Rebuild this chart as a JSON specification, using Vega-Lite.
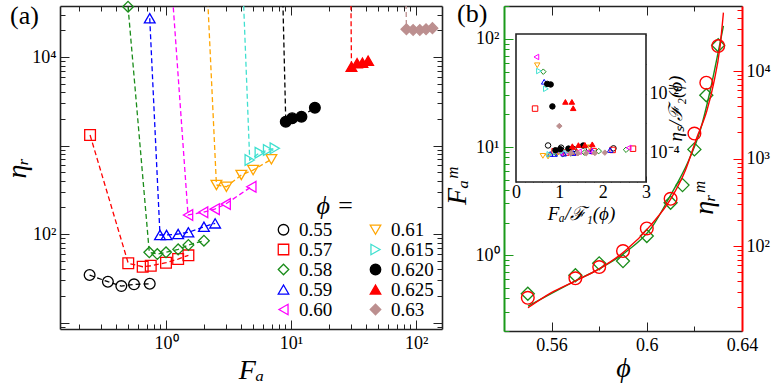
{
  "$schema": "https://vega.github.io/schema/vega-lite/v6.json",
  "background": "white",
  "padding": {"left": 3, "top": -3, "right": 0, "bottom": 0},
  "spacing": 0,
  "resolve": {"scale": {"stroke": "independent", "fill": "independent", "shape": "independent"}, "legend": {"stroke": "independent", "fill": "independent", "shape": "independent"}},
  "config": {
    "view": {"stroke": null},
    "font": "Liberation Serif",
    "axis": {"labelFont": "Liberation Serif", "titleFont": "Liberation Serif", "labelFontSize": 18, "titleFontSize": 28, "titleFontWeight": "normal", "titleFontStyle": "italic", "labelColor": "black", "titleColor": "black", "grid": false, "domainColor": "#222", "tickColor": "#222", "domainWidth": 1.6, "tickWidth": 1, "labelFlush": false, "labelOverlap": false},
    "title": {"font": "Liberation Serif", "fontWeight": "normal", "fontSize": 26, "color": "black"}
  },
  "datasets": {
    "a": [
      {"phi": "0.55", "i": 0, "Fa": 0.245, "eta": 34.4},
      {"phi": "0.55", "i": 1, "Fa": 0.343, "eta": 28.9},
      {"phi": "0.55", "i": 2, "Fa": 0.439, "eta": 25.8},
      {"phi": "0.55", "i": 3, "Fa": 0.555, "eta": 27.0},
      {"phi": "0.55", "i": 4, "Fa": 0.741, "eta": 27.4},
      {"phi": "0.57", "i": 0, "Fa": 0.247, "eta": 1314},
      {"phi": "0.57", "i": 1, "Fa": 0.499, "eta": 46.7},
      {"phi": "0.57", "i": 2, "Fa": 0.651, "eta": 42.7},
      {"phi": "0.57", "i": 3, "Fa": 0.755, "eta": 43.8},
      {"phi": "0.57", "i": 4, "Fa": 1.0, "eta": 47.4},
      {"phi": "0.57", "i": 5, "Fa": 1.25, "eta": 52.2},
      {"phi": "0.57", "i": 6, "Fa": 1.51, "eta": 57.4},
      {"phi": "0.58", "i": 0, "Fa": 0.497, "eta": 37000},
      {"phi": "0.58", "i": 1, "Fa": 0.735, "eta": 62.1},
      {"phi": "0.58", "i": 2, "Fa": 0.852, "eta": 59.4},
      {"phi": "0.58", "i": 3, "Fa": 1.0, "eta": 62.1},
      {"phi": "0.58", "i": 4, "Fa": 1.25, "eta": 67.1},
      {"phi": "0.58", "i": 5, "Fa": 1.51, "eta": 75.1},
      {"phi": "0.58", "i": 6, "Fa": 2.01, "eta": 84.0},
      {"phi": "0.59", "i": 0, "Fa": 0.741, "eta": 27400},
      {"phi": "0.59", "i": 1, "Fa": 0.895, "eta": 97.5},
      {"phi": "0.59", "i": 2, "Fa": 1.01, "eta": 97.5},
      {"phi": "0.59", "i": 3, "Fa": 1.25, "eta": 100},
      {"phi": "0.59", "i": 4, "Fa": 1.51, "eta": 104.5},
      {"phi": "0.59", "i": 5, "Fa": 2.01, "eta": 120.9},
      {"phi": "0.59", "i": 6, "Fa": 2.47, "eta": 132},
      {"phi": "0.60", "i": 0, "Fa": 1.03, "eta": 290000},
      {"phi": "0.60", "i": 1, "Fa": 1.5, "eta": 164},
      {"phi": "0.60", "i": 2, "Fa": 1.98, "eta": 176},
      {"phi": "0.60", "i": 3, "Fa": 2.45, "eta": 191},
      {"phi": "0.60", "i": 4, "Fa": 3.0, "eta": 218},
      {"phi": "0.60", "i": 5, "Fa": 4.81, "eta": 342},
      {"phi": "0.61", "i": 0, "Fa": 2.0, "eta": 420000},
      {"phi": "0.61", "i": 1, "Fa": 2.53, "eta": 358},
      {"phi": "0.61", "i": 2, "Fa": 3.04, "eta": 342},
      {"phi": "0.61", "i": 3, "Fa": 4.0, "eta": 464},
      {"phi": "0.61", "i": 4, "Fa": 4.97, "eta": 528},
      {"phi": "0.61", "i": 5, "Fa": 6.96, "eta": 698},
      {"phi": "0.615", "i": 0, "Fa": 3.9, "eta": 460000},
      {"phi": "0.615", "i": 1, "Fa": 4.67, "eta": 685},
      {"phi": "0.615", "i": 2, "Fa": 5.62, "eta": 830},
      {"phi": "0.615", "i": 3, "Fa": 6.55, "eta": 889},
      {"phi": "0.615", "i": 4, "Fa": 7.41, "eta": 929},
      {"phi": "0.620", "i": 0, "Fa": 8.3, "eta": 330000},
      {"phi": "0.620", "i": 1, "Fa": 9.07, "eta": 1859},
      {"phi": "0.620", "i": 2, "Fa": 10.2, "eta": 2028},
      {"phi": "0.620", "i": 3, "Fa": 12.1, "eta": 2118},
      {"phi": "0.620", "i": 4, "Fa": 15.5, "eta": 2678},
      {"phi": "0.625", "i": 0, "Fa": 29.8, "eta": 250000},
      {"phi": "0.625", "i": 1, "Fa": 30.4, "eta": 7780},
      {"phi": "0.625", "i": 2, "Fa": 33.7, "eta": 8490},
      {"phi": "0.625", "i": 3, "Fa": 37.2, "eta": 8630},
      {"phi": "0.625", "i": 4, "Fa": 41.3, "eta": 9080},
      {"phi": "0.63", "i": 0, "Fa": 82, "eta": 170000},
      {"phi": "0.63", "i": 1, "Fa": 83.6, "eta": 20600},
      {"phi": "0.63", "i": 2, "Fa": 94.6, "eta": 20200},
      {"phi": "0.63", "i": 3, "Fa": 107, "eta": 20200},
      {"phi": "0.63", "i": 4, "Fa": 120, "eta": 20600},
      {"phi": "0.63", "i": 5, "Fa": 135, "eta": 21200}
    ],
    "ins": [
      {"p": "0.55", "x": 0.74, "y": 0.00018},
      {"p": "0.55", "x": 1.04, "y": 0.000152},
      {"p": "0.55", "x": 1.33, "y": 0.000136},
      {"p": "0.55", "x": 1.68, "y": 0.000142},
      {"p": "0.55", "x": 2.25, "y": 0.000144},
      {"p": "0.57", "x": 0.44, "y": 0.0032},
      {"p": "0.57", "x": 0.89, "y": 0.000114},
      {"p": "0.57", "x": 1.16, "y": 0.000104},
      {"p": "0.57", "x": 1.35, "y": 0.000107},
      {"p": "0.57", "x": 1.79, "y": 0.000116},
      {"p": "0.57", "x": 2.23, "y": 0.000127},
      {"p": "0.57", "x": 2.7, "y": 0.00014},
      {"p": "0.58", "x": 0.63, "y": 0.057},
      {"p": "0.58", "x": 0.93, "y": 0.000096},
      {"p": "0.58", "x": 1.08, "y": 0.000091},
      {"p": "0.58", "x": 1.27, "y": 0.000096},
      {"p": "0.58", "x": 1.58, "y": 0.000103},
      {"p": "0.58", "x": 1.91, "y": 0.000116},
      {"p": "0.58", "x": 2.54, "y": 0.000129},
      {"p": "0.59", "x": 0.65, "y": 0.026},
      {"p": "0.59", "x": 0.79, "y": 0.000093},
      {"p": "0.59", "x": 0.89, "y": 0.000093},
      {"p": "0.59", "x": 1.1, "y": 0.000095},
      {"p": "0.59", "x": 1.32, "y": 0.0001},
      {"p": "0.59", "x": 1.76, "y": 0.000115},
      {"p": "0.59", "x": 2.17, "y": 0.000126},
      {"p": "0.60", "x": 0.47, "y": 0.18},
      {"p": "0.60", "x": 1.03, "y": 0.0001},
      {"p": "0.60", "x": 1.2, "y": 0.000105},
      {"p": "0.60", "x": 1.45, "y": 0.00011},
      {"p": "0.60", "x": 1.7, "y": 0.00012},
      {"p": "0.60", "x": 2.6, "y": 0.00015},
      {"p": "0.61", "x": 0.49, "y": 0.094},
      {"p": "0.61", "x": 0.62, "y": 0.00008},
      {"p": "0.61", "x": 0.74, "y": 0.000076},
      {"p": "0.61", "x": 0.98, "y": 0.000103},
      {"p": "0.61", "x": 1.21, "y": 0.000117},
      {"p": "0.61", "x": 1.7, "y": 0.000155},
      {"p": "0.615", "x": 0.53, "y": 0.06},
      {"p": "0.615", "x": 0.69, "y": 0.015},
      {"p": "0.615", "x": 0.77, "y": 0.00009},
      {"p": "0.615", "x": 0.92, "y": 0.000109},
      {"p": "0.615", "x": 1.07, "y": 0.000117},
      {"p": "0.615", "x": 1.21, "y": 0.000122},
      {"p": "0.620", "x": 0.72, "y": 0.022},
      {"p": "0.620", "x": 0.8, "y": 0.021},
      {"p": "0.620", "x": 0.84, "y": 0.0038},
      {"p": "0.620", "x": 0.91, "y": 0.000124},
      {"p": "0.620", "x": 1.02, "y": 0.000135},
      {"p": "0.620", "x": 1.21, "y": 0.000141},
      {"p": "0.620", "x": 1.55, "y": 0.000179},
      {"p": "0.625", "x": 1.14, "y": 0.0054},
      {"p": "0.625", "x": 1.29, "y": 0.0054},
      {"p": "0.625", "x": 1.32, "y": 0.0033},
      {"p": "0.625", "x": 1.3, "y": 0.00017},
      {"p": "0.625", "x": 1.44, "y": 0.000185},
      {"p": "0.625", "x": 1.59, "y": 0.000188},
      {"p": "0.625", "x": 1.76, "y": 0.000197},
      {"p": "0.63", "x": 1.0, "y": 0.00082},
      {"p": "0.63", "x": 1.27, "y": 0.0001},
      {"p": "0.63", "x": 1.43, "y": 0.000098},
      {"p": "0.63", "x": 1.62, "y": 0.000098},
      {"p": "0.63", "x": 1.82, "y": 0.0001},
      {"p": "0.63", "x": 2.05, "y": 0.000103}
    ],
    "bp": [
      {"phi": 0.55, "F": 0.438, "eta": 25.6},
      {"phi": 0.57, "F": 0.649, "eta": 42.8},
      {"phi": 0.58, "F": 0.838, "eta": 57.5},
      {"phi": 0.59, "F": 0.879, "eta": 87.7},
      {"phi": 0.6, "F": 1.5, "eta": 159},
      {"phi": 0.61, "F": 3.05, "eta": 347},
      {"phi": 0.615, "F": 4.44, "eta": null},
      {"phi": 0.62, "F": 9.5, "eta": 1930},
      {"phi": 0.625, "F": 30.1, "eta": 7350},
      {"phi": 0.63, "F": 87.5, "eta": 19300}
    ],
    "gc": [
      {"phi": 0.5501, "F": 0.337},
      {"phi": 0.5698, "F": 0.574},
      {"phi": 0.5796, "F": 0.737},
      {"phi": 0.5908, "F": 1.05},
      {"phi": 0.602, "F": 1.79},
      {"phi": 0.6098, "F": 3.52},
      {"phi": 0.6175, "F": 7.42},
      {"phi": 0.6224, "F": 14.1},
      {"phi": 0.6266, "F": 33.0},
      {"phi": 0.6301, "F": 77.4},
      {"phi": 0.6322, "F": 132}
    ],
    "rc": [
      {"phi": 0.5501, "eta": 19.7},
      {"phi": 0.5599, "eta": 29.3},
      {"phi": 0.5698, "eta": 39.8},
      {"phi": 0.5796, "eta": 54.2},
      {"phi": 0.5908, "eta": 87.7},
      {"phi": 0.602, "eta": 177},
      {"phi": 0.6104, "eta": 357},
      {"phi": 0.6161, "eta": 719},
      {"phi": 0.621, "eta": 1730},
      {"phi": 0.6252, "eta": 3490},
      {"phi": 0.628, "eta": 7050},
      {"phi": 0.6308, "eta": 19300},
      {"phi": 0.6322, "eta": 46500}
    ]
  },
  "hconcat": [
    {
      "width": 382,
      "height": 323,
      "title": {"text": "(a)", "anchor": "start", "frame": "group", "dx": -50, "dy": 34, "fontSize": 26},
      "data": {"name": "a"},
      "layer": [
        {
          "mark": {"type": "line", "strokeDash": [5, 3], "strokeWidth": 1.3, "clip": true},
          "encoding": {
            "x": {"field": "Fa", "type": "quantitative", "scale": {"type": "log", "domain": [0.142, 161], "nice": false},
              "axis": {"orient": "bottom", "values": [0.2,0.3,0.4,0.5,0.6,0.7,0.8,0.9,1,2,3,4,5,6,7,8,9,10,20,30,40,50,60,70,80,90,100],
                "labelExpr": "datum.value == 1 ? '10⁰' : datum.value == 10 ? '10¹' : datum.value == 100 ? '10²' : ''",
                "tickSize": {"condition": {"test": "indexof([1,10,100], datum.value) >= 0", "value": -9}, "value": -5},
                "labelPadding": 14, "title": "Fₐ", "titlePadding": 0}},
            "y": {"field": "eta", "type": "quantitative", "scale": {"type": "log", "domain": [8.45, 37700], "nice": false},
              "axis": {"orient": "left", "values": [9,10,20,30,40,50,60,70,80,90,100,200,300,400,500,600,700,800,900,1000,2000,3000,4000,5000,6000,7000,8000,9000,10000,20000,30000],
                "labelExpr": "datum.value == 100 ? '10²' : datum.value == 10000 ? '10⁴' : ''",
                "tickSize": {"condition": {"test": "indexof([10,100,1000,10000], datum.value) >= 0", "value": -9}, "value": -5},
                "labelPadding": 13, "title": "ηᵣ", "titlePadding": 0}},
            "stroke": {"field": "phi", "type": "nominal",
              "scale": {"domain": ["0.55","0.57","0.58","0.59","0.60","0.61","0.615","0.620","0.625","0.63"],
                "range": ["black","#ff0000","#1a8c1a","#0000ff","#ff00ff","#ffa500","#40e0d0","black","#ff0000","#bc8f8f"]}},
            "detail": {"field": "phi"},
            "order": {"field": "i", "type": "quantitative"}
          }
        },
        {
          "transform": [{"filter": "datum.eta < 38000"}],
          "mark": {"type": "point", "strokeWidth": 1.3, "opacity": 1},
          "encoding": {
            "x": {"field": "Fa", "type": "quantitative", "scale": {"type": "log", "domain": [0.142, 161], "nice": false},
              "axis": {"orient": "top", "values": [0.2,0.3,0.4,0.5,0.6,0.7,0.8,0.9,1,2,3,4,5,6,7,8,9,10,20,30,40,50,60,70,80,90,100],
                "labels": false, "title": null,
                "tickSize": {"condition": {"test": "indexof([1,10,100], datum.value) >= 0", "value": -9}, "value": -5}}},
            "y": {"field": "eta", "type": "quantitative", "scale": {"type": "log", "domain": [8.45, 37700], "nice": false},
              "axis": {"orient": "right", "values": [9,10,20,30,40,50,60,70,80,90,100,200,300,400,500,600,700,800,900,1000,2000,3000,4000,5000,6000,7000,8000,9000,10000,20000,30000],
                "labels": false, "title": null,
                "tickSize": {"condition": {"test": "indexof([10,100,1000,10000], datum.value) >= 0", "value": -9}, "value": -5}}},
            "stroke": {"field": "phi", "type": "nominal",
              "scale": {"domain": ["0.55","0.57","0.58","0.59","0.60","0.61","0.615","0.620","0.625","0.63"],
                "range": ["black","#ff0000","#1a8c1a","#0000ff","#ff00ff","#ffa500","#40e0d0","black","#ff0000","#bc8f8f"]}},
            "fill": {"field": "phi", "type": "nominal",
              "scale": {"domain": ["0.55","0.57","0.58","0.59","0.60","0.61","0.615","0.620","0.625","0.63"],
                "range": ["transparent","transparent","transparent","transparent","transparent","transparent","transparent","black","#ff0000","#bc8f8f"]}},
            "shape": {"field": "phi", "type": "nominal",
              "scale": {"domain": ["0.55","0.57","0.58","0.59","0.60","0.61","0.615","0.620","0.625","0.63"],
                "range": ["circle","square","diamond","triangle-up","triangle-left","triangle-down","triangle-right","circle","triangle-up","diamond"]},
              "legend": {"title": "ϕ =", "orient": "none", "legendX": 214, "legendY": 187, "columns": 2, "columnPadding": 33, "rowPadding": 0,
                "titleFontSize": 26, "titleFont": "Liberation Serif", "titleFontWeight": "normal", "titleFontStyle": "italic", "titleAnchor": "middle", "titleAlign": "right", "titlePadding": 1,
                "labelFont": "Liberation Serif", "labelFontSize": 19, "labelColor": "black", "symbolSize": 110, "symbolStrokeWidth": 1.3, "labelOffset": 6}},
            "size": {"value": 115}
          }
        }
      ],
      "resolve": {"axis": {"x": "independent", "y": "independent"}}
    },
    {
      "width": 238,
      "height": 325,
      "title": {"text": "(b)", "anchor": "start", "frame": "group", "dx": -47, "dy": 34, "fontSize": 26},
      "layer": [
        {
          "encoding": {
            "x": {"field": "phi", "type": "quantitative", "scale": {"domain": [0.54, 0.64], "nice": false, "zero": false},
              "axis": {"orient": "bottom", "values": [0.56, 0.58, 0.6, 0.62, 0.64],
                "labelExpr": "datum.value == 0.56 ? '0.56' : datum.value == 0.6 ? '0.6' : datum.value == 0.64 ? '0.64' : ''",
                "tickSize": {"condition": {"test": "indexof([0.56,0.6,0.64], datum.value) >= 0", "value": -9}, "value": -5},
                "labelPadding": 14, "title": "ϕ", "titlePadding": -4}},
            "y": {"field": "F", "type": "quantitative", "scale": {"type": "log", "domain": [0.198, 202], "nice": false},
              "axis": {"orient": "left", "values": [0.2,0.3,0.4,0.5,0.6,0.7,0.8,0.9,1,2,3,4,5,6,7,8,9,10,20,30,40,50,60,70,80,90,100,200],
                "labelExpr": "datum.value == 1 ? '10⁰' : datum.value == 10 ? '10¹' : datum.value == 100 ? '10²' : ''",
                "tickSize": {"condition": {"test": "indexof([1,10,100], datum.value) >= 0", "value": -9}, "value": -5},
                "domainColor": "#1a9a1a", "tickColor": "#1a9a1a", "domainWidth": 2,
                "labelPadding": 14, "title": "Fₐᵐ", "titlePadding": 4, "titleY": 180}}
          },
          "layer": [
            {"data": {"name": "gc"}, "mark": {"type": "line", "color": "#1a8c1a", "strokeWidth": 1.4, "interpolate": "monotone", "clip": true}},
            {"data": {"name": "bp"}, "mark": {"type": "point", "shape": "diamond", "color": "#1a8c1a", "size": 170, "strokeWidth": 1.3, "opacity": 1}}
          ]
        },
        {
          "encoding": {
            "x": {"field": "phi", "type": "quantitative", "scale": {"domain": [0.54, 0.64], "nice": false, "zero": false},
              "axis": {"orient": "top", "values": [0.56, 0.58, 0.6, 0.62, 0.64], "labels": false, "title": null,
                "tickSize": {"condition": {"test": "indexof([0.56,0.6,0.64], datum.value) >= 0", "value": -9}, "value": -5}}},
            "y": {"field": "eta", "type": "quantitative", "scale": {"type": "log", "domain": [10.7, 55300], "nice": false},
              "axis": {"orient": "right", "values": [20,30,40,50,60,70,80,90,100,200,300,400,500,600,700,800,900,1000,2000,3000,4000,5000,6000,7000,8000,9000,10000,20000,30000,40000,50000],
                "labelExpr": "datum.value == 100 ? '10²' : datum.value == 1000 ? '10³' : datum.value == 10000 ? '10⁴' : ''",
                "tickSize": {"condition": {"test": "indexof([100,1000,10000], datum.value) >= 0", "value": -9}, "value": -5},
                "domainColor": "#ff0000", "tickColor": "#ff0000", "domainWidth": 2,
                "labelPadding": 13, "title": "ηᵣᵐ", "titleX": -24, "titleY": 192, "titleAngle": 270}}
          },
          "layer": [
            {"data": {"name": "rc"}, "mark": {"type": "line", "color": "#ff0000", "strokeWidth": 1.4, "interpolate": "monotone", "clip": true}},
            {"data": {"name": "bp"}, "transform": [{"filter": "datum.eta != null"}], "mark": {"type": "point", "shape": "circle", "color": "#ff0000", "size": 160, "strokeWidth": 1.4, "opacity": 1}}
          ]
        },
        {
          "layer": [
            {
              "data": {"values": [{"k": 1}]},
              "mark": {"type": "rect", "fill": "white", "stroke": "#222", "strokeWidth": 1.6},
              "encoding": {
                "x": {"datum": 0, "type": "quantitative", "scale": {"domain": [0, 3], "range": [12, 142], "nice": false, "zero": false},
                  "axis": {"orient": "bottom", "offset": -149, "domain": false, "values": [0,0.2,0.4,0.6,0.8,1,1.2,1.4,1.6,1.8,2,2.2,2.4,2.6,2.8,3],
                    "labelExpr": "indexof([0,1,2,3], datum.value) >= 0 ? format(datum.value, 'd') : ''",
                    "tickSize": {"condition": {"test": "indexof([0,1,2,3], datum.value) >= 0", "value": -6}, "value": -3},
                    "labelFontSize": 18, "labelPadding": 7, "title": "Fₐ/ℱ₁(ϕ)", "titleFontSize": 19, "titlePadding": 0}},
                "x2": {"datum": 3},
                "y": {"datum": 0.0000104, "type": "quantitative", "scale": {"type": "log", "domain": [0.0000104, 1.08], "range": [176, 28], "nice": false},
                  "axis": {"orient": "right", "offset": -96, "domain": false, "values": [0.00001, 0.0001, 0.001, 0.01, 0.1, 1],
                    "labelExpr": "datum.value == 0.01 ? '10⁻²' : datum.value == 0.0001 ? '10⁻⁴' : ''",
                    "tickSize": -5, "labelFontSize": 18, "labelPadding": 8, "title": "ηₛ/ℱ₂(ϕ)", "titleFontSize": 19, "titleAngle": 270, "titlePadding": 6}},
                "y2": {"datum": 1.08}
              }
            },
            {
              "data": {"name": "ins"},
              "mark": {"type": "point", "strokeWidth": 1, "opacity": 1},
              "encoding": {
                "x": {"field": "x", "type": "quantitative", "scale": {"domain": [0, 3], "range": [12, 142], "nice": false, "zero": false},
                  "axis": {"orient": "bottom", "offset": -149, "domain": false, "values": [0,0.2,0.4,0.6,0.8,1,1.2,1.4,1.6,1.8,2,2.2,2.4,2.6,2.8,3],
                    "labelExpr": "indexof([0,1,2,3], datum.value) >= 0 ? format(datum.value, 'd') : ''",
                    "tickSize": {"condition": {"test": "indexof([0,1,2,3], datum.value) >= 0", "value": -6}, "value": -3},
                    "labelFontSize": 18, "labelPadding": 7, "title": "Fₐ/ℱ₁(ϕ)", "titleFontSize": 19, "titlePadding": 0}},
                "y": {"field": "y", "type": "quantitative", "scale": {"type": "log", "domain": [0.0000104, 1.08], "range": [176, 28], "nice": false},
                  "axis": {"orient": "right", "offset": -96, "domain": false, "values": [0.00001, 0.0001, 0.001, 0.01, 0.1, 1],
                    "labelExpr": "datum.value == 0.01 ? '10⁻²' : datum.value == 0.0001 ? '10⁻⁴' : ''",
                    "tickSize": -5, "labelFontSize": 18, "labelPadding": 8, "title": "ηₛ/ℱ₂(ϕ)", "titleFontSize": 19, "titleAngle": 270, "titlePadding": 6}},
                "stroke": {"field": "p", "type": "nominal",
                  "scale": {"domain": ["0.55","0.57","0.58","0.59","0.60","0.61","0.615","0.620","0.625","0.63"],
                    "range": ["black","#ff0000","#1a8c1a","#0000ff","#ff00ff","#ffa500","#40e0d0","black","#ff0000","#bc8f8f"]}, "legend": null},
                "fill": {"field": "p", "type": "nominal",
                  "scale": {"domain": ["0.55","0.57","0.58","0.59","0.60","0.61","0.615","0.620","0.625","0.63"],
                    "range": ["transparent","transparent","transparent","transparent","transparent","transparent","transparent","black","#ff0000","#bc8f8f"]}, "legend": null},
                "shape": {"field": "p", "type": "nominal",
                  "scale": {"domain": ["0.55","0.57","0.58","0.59","0.60","0.61","0.615","0.620","0.625","0.63"],
                    "range": ["circle","square","diamond","triangle-up","triangle-left","triangle-down","triangle-right","circle","triangle-up","diamond"]}, "legend": null},
                "size": {"value": 30}
              }
            }
          ]
        }
      ],
      "resolve": {"scale": {"x": "independent", "y": "independent"}, "axis": {"x": "independent", "y": "independent"}}
    }
  ]
}
